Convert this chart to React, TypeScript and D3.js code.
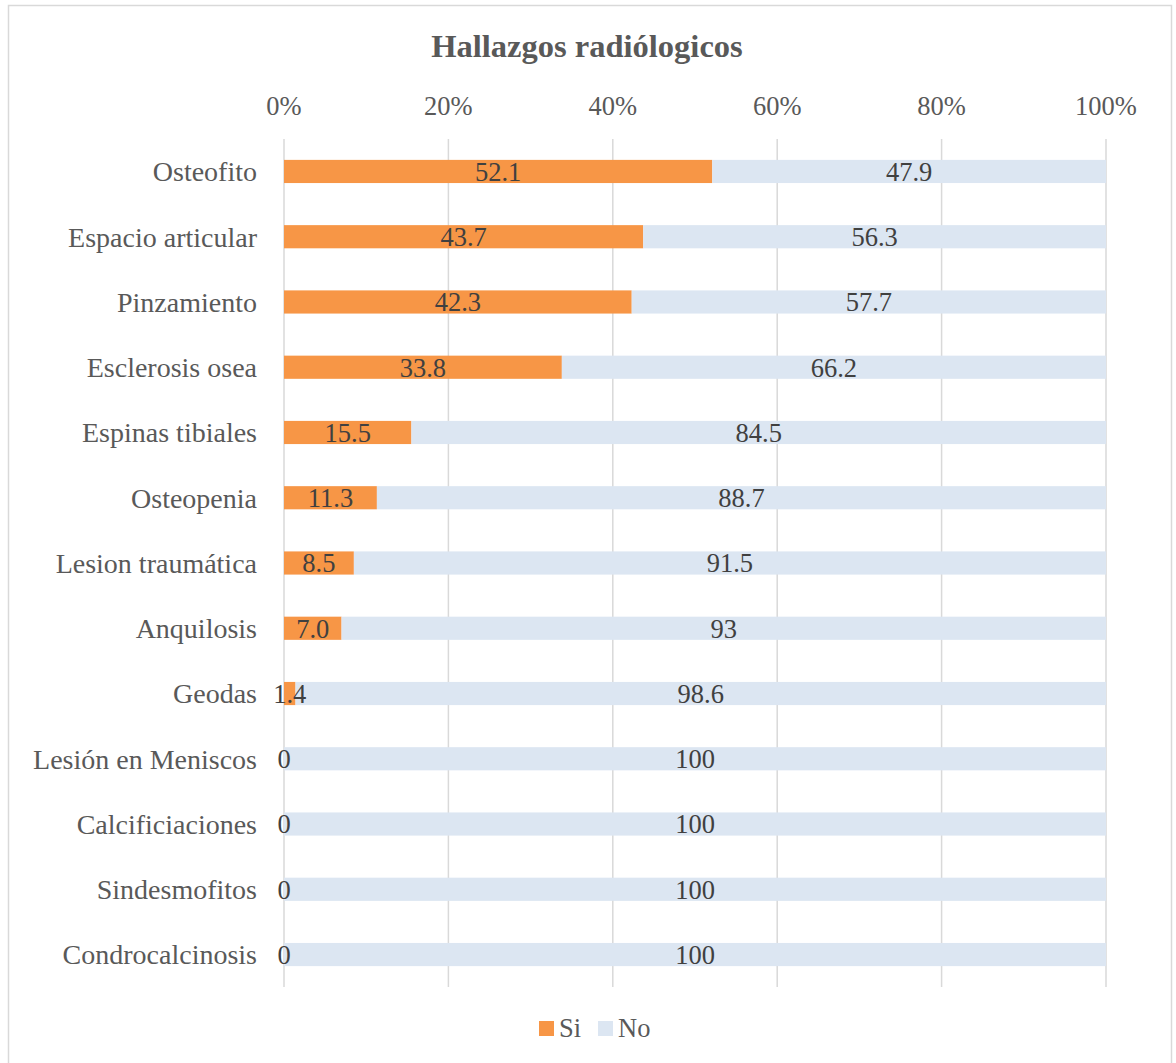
import React, { useRef, useEffect } from "react"
import * as d3 from "d3"

const categories = [
  "Osteofito",
  "Espacio articular",
  "Pinzamiento",
  "Esclerosis osea",
  "Espinas tibiales",
  "Osteopenia",
  "Lesion traumática",
  "Anquilosis",
  "Geodas",
  "Lesión en Meniscos",
  "Calcificiaciones",
  "Sindesmofitos",
  "Condrocalcinosis",
]
const siValues = [52.1, 43.7, 42.3, 33.8, 15.5, 11.3, 8.5, 7.0, 1.4, 0, 0, 0, 0]
const noValues = [47.9, 56.3, 57.7, 66.2, 84.5, 88.7, 91.5, 93, 98.6, 100, 100, 100, 100]
const siLabels = ["52.1", "43.7", "42.3", "33.8", "15.5", "11.3", "8.5", "7.0", "1.4", "0", "0", "0", "0"]
const noLabels = ["47.9", "56.3", "57.7", "66.2", "84.5", "88.7", "91.5", "93", "98.6", "100", "100", "100", "100"]
const tickValues = [0, 20, 40, 60, 80, 100]

const font = "Liberation Serif, serif"

const App = () => {
  const svgRef = useRef(null)

  useEffect(() => {
    const svgWidth = 1176
    const svgHeight = 1063
    const svg = d3.select(svgRef.current)
    svg.selectAll("*").remove()
    svg.attr("width", svgWidth).attr("height", svgHeight)
      .style("font-family", font)

    // chart frame (bottom edge is cut off)
    svg.append("rect")
      .attr("x", 8.5).attr("y", 5.5)
      .attr("width", 1163).attr("height", 1100)
      .attr("fill", "white").attr("stroke", "#d9d9d9").attr("stroke-width", 1.5)

    svg.append("text")
      .attr("x", 587).attr("y", 57)
      .attr("text-anchor", "middle")
      .attr("font-family", font).attr("font-size", 32.5).attr("font-weight", "bold")
      .attr("fill", "#595959")
      .text("Hallazgos radiólogicos")

    const xScale = d3.scaleLinear().domain([0, 100]).range([284, 1106])
    const yScale = d3.scaleBand().domain(categories).range([139, 987]).paddingInner(0.645).paddingOuter(0.32)

    const g = svg.append("g")

    g.selectAll(".grid")
      .data(tickValues)
      .enter()
      .append("line")
      .attr("x1", (d) => xScale(d)).attr("x2", (d) => xScale(d))
      .attr("y1", 139).attr("y2", 987)
      .attr("stroke", "#d9d9d9").attr("stroke-width", 1.5)

    g.selectAll(".tick")
      .data(tickValues)
      .enter()
      .append("text")
      .attr("x", (d) => xScale(d)).attr("y", 115)
      .attr("text-anchor", "middle")
      .attr("font-family", font).attr("font-size", 26.5)
      .attr("fill", "#595959")
      .text((d) => d + "%")

    const rows = categories.map((c, i) => ({ c, si: siValues[i], no: noValues[i], siL: siLabels[i], noL: noLabels[i] }))

    g.selectAll(".si")
      .data(rows)
      .enter()
      .append("rect")
      .attr("x", xScale(0))
      .attr("y", (d) => yScale(d.c))
      .attr("width", (d) => xScale(d.si) - xScale(0))
      .attr("height", yScale.bandwidth())
      .attr("fill", "#F79646")

    g.selectAll(".no")
      .data(rows)
      .enter()
      .append("rect")
      .attr("x", (d) => xScale(d.si))
      .attr("y", (d) => yScale(d.c))
      .attr("width", (d) => xScale(d.si + d.no) - xScale(d.si))
      .attr("height", yScale.bandwidth())
      .attr("fill", "#DCE6F2")

    g.selectAll(".cat")
      .data(rows)
      .enter()
      .append("text")
      .attr("x", 257)
      .attr("y", (d) => yScale(d.c) + yScale.bandwidth() / 2)
      .attr("dy", "0.35em")
      .attr("text-anchor", "end")
      .attr("font-family", font).attr("font-size", 28)
      .attr("fill", "#595959")
      .text((d) => d.c)

    g.selectAll(".siL")
      .data(rows)
      .enter()
      .append("text")
      .attr("x", (d) => xScale(d.si / 2))
      .attr("y", (d) => yScale(d.c) + yScale.bandwidth() / 2)
      .attr("dy", "0.35em")
      .attr("text-anchor", "middle")
      .attr("font-family", font).attr("font-size", 26.5)
      .attr("fill", "#404040")
      .text((d) => d.siL)

    g.selectAll(".noL")
      .data(rows)
      .enter()
      .append("text")
      .attr("x", (d) => xScale(d.si + d.no / 2))
      .attr("y", (d) => yScale(d.c) + yScale.bandwidth() / 2)
      .attr("dy", "0.35em")
      .attr("text-anchor", "middle")
      .attr("font-family", font).attr("font-size", 26.5)
      .attr("fill", "#404040")
      .text((d) => d.noL)

    // legend
    const legend = [
      { name: "Si", color: "#F79646", x: 539 },
      { name: "No", color: "#DCE6F2", x: 598 },
    ]
    const lg = svg.append("g")
    lg.selectAll("rect")
      .data(legend)
      .enter()
      .append("rect")
      .attr("x", (d) => d.x).attr("y", 1021)
      .attr("width", 15).attr("height", 15)
      .attr("fill", (d) => d.color)
    lg.selectAll("text")
      .data(legend)
      .enter()
      .append("text")
      .attr("x", (d) => d.x + 20).attr("y", 1037)
      .attr("font-family", font).attr("font-size", 26.5)
      .attr("fill", "#595959")
      .text((d) => d.name)
  }, [])

  return (
    <svg ref={svgRef} style={{ position: "absolute", left: 0, top: 0 }}></svg>
  )
}

export default App
